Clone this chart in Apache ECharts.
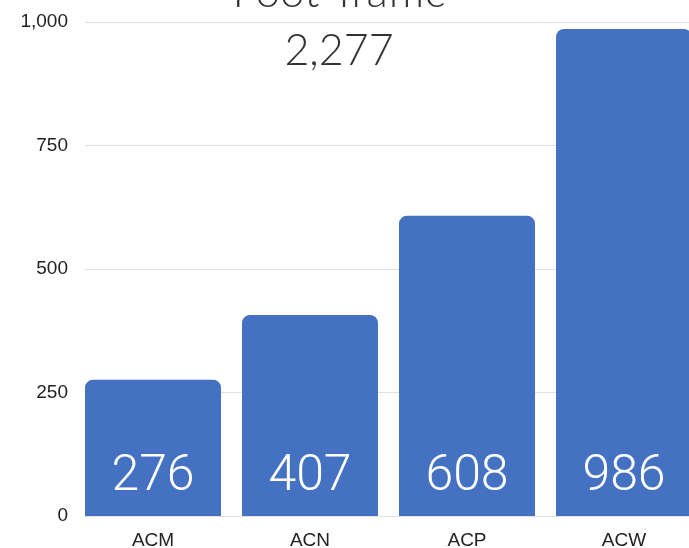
<!DOCTYPE html>
<html>
<head>
<meta charset="utf-8">
<script src="https://cdn.jsdelivr.net/npm/echarts@6/dist/echarts.min.js"></script>
<style>
  html, body { margin: 0; padding: 0; background: #fff; }
  #chart { width: 689px; height: 548px; }
</style>
</head>
<body>
<div id="chart"></div>
<script>
// 数据
const categories = ["ACM", "ACN", "ACP", "ACW"];
const trafficValues = [276, 407, 608, 986];
const yTicks = [0, 250, 500, 750, 1000];

const total = trafficValues.reduce((a, b) => a + b, 0);

const myChart = echarts.init(document.getElementById("chart"));
const option = {
  animation: false,
  title: [
    {
      text: "Foot Traffic",
      left: 334,
      textAlign: "center",
      top: -34,
      textStyle: { fontFamily: "Lato", fontWeight: 300, fontSize: 44, color: "#333" }
    },
    {
      text: total.toLocaleString("en-US"),
      left: 334,
      textAlign: "center",
      top: 25,
      textStyle: { fontFamily: "Lato", fontWeight: 300, fontSize: 43, color: "#333" }
    }
  ],
  // grid 0: y 轴标签和网格线; grid 1: 柱子
  grid: [
    { left: 85, right: 0, top: 22, bottom: 32, outerBoundsMode: "none" },
    { left: 74.5, width: 628, top: 22, bottom: 32, outerBoundsMode: "none" }
  ],
  xAxis: [
    { gridIndex: 0, type: "category", data: categories, show: false },
    {
      gridIndex: 1,
      type: "category",
      data: categories,
      axisLine: { show: false },
      axisTick: { show: false },
      axisLabel: {
        margin: 15,
        fontFamily: "Liberation Sans",
        fontSize: 19,
        color: "#222"
      }
    }
  ],
  yAxis: [
    {
      gridIndex: 0,
      type: "value",
      min: yTicks[0],
      max: yTicks[yTicks.length - 1],
      interval: yTicks[1] - yTicks[0],
      axisLine: { show: false },
      axisTick: { show: false },
      axisLabel: {
        margin: 17,
        fontFamily: "Liberation Sans",
        fontSize: 19,
        color: "#222",
        formatter: (v) => v.toLocaleString("en-US")
      },
      splitLine: { lineStyle: { color: "#e0e0e0", width: 1 } }
    },
    {
      gridIndex: 1,
      type: "value",
      min: yTicks[0],
      max: yTicks[yTicks.length - 1],
      interval: yTicks[1] - yTicks[0],
      show: false
    }
  ],
  series: [
    {
      type: "bar",
      xAxisIndex: 1,
      yAxisIndex: 1,
      data: trafficValues,
      barCategoryGap: "13.4%",
      itemStyle: { color: "#4471c2", borderRadius: [8, 8, 0, 0] },
      label: {
        show: true,
        position: "insideBottom",
        distance: 14,
        fontFamily: "Roboto",
        fontWeight: 300,
        fontSize: 50,
        color: "#fff"
      }
    }
  ]
};
myChart.clear();
myChart.setOption(option);
</script>
</body>
</html>
